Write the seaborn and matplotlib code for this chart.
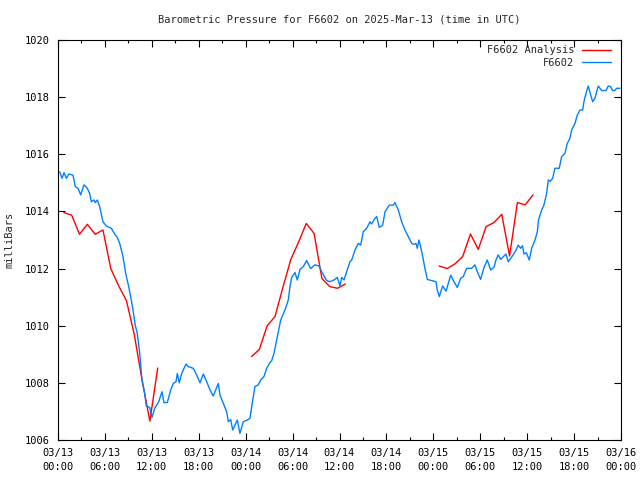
import matplotlib
matplotlib.use("Agg")
import matplotlib.pyplot as plt
from matplotlib.lines import Line2D
from matplotlib.ticker import MultipleLocator
import numpy as np
import pandas as pd
import seaborn as sns

title = "Barometric Pressure for F6602 on 2025-Mar-13 (time in UTC)"
ylabel = "milliBars"
series_names = ["F6602 Analysis", "F6602"]

# hours since 2025-03-13 00:00 UTC
blue_hours = [0.22, 0.51, 0.77, 1.06, 1.41, 1.92, 2.21, 2.56, 2.90, 3.32, 3.75, 4.05, 4.26, 4.60, 4.77, 5.03,
              5.33, 5.75, 6.18, 6.82, 7.25, 7.58, 7.89, 8.31, 8.66, 9.04, 9.37, 9.59, 9.88, 10.14, 10.45,
              10.74, 11.09, 11.29, 11.73, 12.02, 12.37, 12.88, 13.30, 13.55, 13.98, 14.41, 14.74, 15.09,
              15.26, 15.51, 15.82, 16.37, 16.66, 17.30, 17.74, 18.16, 18.58, 19.02, 19.44, 19.86, 20.50,
              20.72, 21.14, 21.57, 21.78, 22.08, 22.34, 22.93, 23.27, 23.70, 24.21, 24.55, 24.77, 25.19,
              25.61, 25.92, 26.34, 26.69, 27.11, 27.33, 27.62, 27.97, 28.48, 29.03, 29.45, 29.67, 29.88,
              30.31, 30.60, 30.95, 31.37, 31.80, 32.31, 32.86, 33.38, 33.72, 34.36, 34.78, 35.29, 35.72,
              36.06, 36.28, 36.57, 36.99, 37.34, 37.56, 37.98, 38.40, 38.71, 39.04, 39.48, 39.90, 40.10,
              40.54, 40.76, 41.09, 41.52, 41.82, 42.37, 42.88, 43.09, 43.52, 43.95, 44.37, 44.80, 45.23,
              45.50, 45.78, 45.95, 46.16, 46.38, 46.64, 46.93, 47.23, 47.79, 48.34, 48.50, 48.76, 49.19,
              49.62, 50.22, 50.64, 51.06, 51.50, 51.83, 52.26, 52.90, 53.32, 53.62, 54.05, 54.48, 54.90,
              55.33, 55.75, 56.01, 56.30, 56.61, 56.90, 57.29, 57.58, 58.22, 58.57, 58.86, 59.17, 59.40,
              59.59, 59.90, 60.27, 60.58, 61.00, 61.30, 61.45, 61.85, 62.15, 62.49, 62.70, 62.95, 63.26,
              63.55, 64.10, 64.41, 64.83, 65.13, 65.47, 65.69, 66.11, 66.41, 66.75, 67.10, 67.26, 67.52,
              67.81, 68.10, 68.38, 68.67, 69.09, 69.53, 70.08, 70.37, 70.65, 70.93, 71.20, 71.44, 71.87]
blue_mb = [1015.39, 1015.16, 1015.36, 1015.16, 1015.31, 1015.27, 1014.87, 1014.81, 1014.58, 1014.93, 1014.81,
           1014.63, 1014.34, 1014.40, 1014.31, 1014.40, 1014.17, 1013.64, 1013.49, 1013.41, 1013.21, 1013.09,
           1012.88, 1012.42, 1011.83, 1011.37, 1010.90, 1010.55, 1010.02, 1009.73, 1009.03, 1008.10, 1007.63,
           1007.19, 1007.14, 1006.79, 1007.11, 1007.34, 1007.69, 1007.31, 1007.31, 1007.75, 1007.98, 1008.04,
           1008.33, 1008.00, 1008.33, 1008.66, 1008.57, 1008.51, 1008.27, 1008.00, 1008.31, 1008.04, 1007.75,
           1007.54, 1007.98, 1007.57, 1007.28, 1006.99, 1006.64, 1006.72, 1006.35, 1006.70, 1006.23, 1006.64,
           1006.70, 1006.76, 1007.17, 1007.87, 1007.93, 1008.10, 1008.22, 1008.51, 1008.71, 1008.78, 1009.03,
           1009.50, 1010.20, 1010.55, 1010.90, 1011.37, 1011.69, 1011.86, 1011.60, 1011.97, 1012.07, 1012.28,
           1012.00, 1012.13, 1012.09, 1011.89, 1011.58, 1011.54, 1011.60, 1011.69, 1011.39, 1011.69, 1011.60,
           1011.95, 1012.24, 1012.30, 1012.65, 1012.88, 1012.82, 1013.29, 1013.41, 1013.64, 1013.56, 1013.76,
           1013.82, 1013.44, 1013.52, 1013.99, 1014.22, 1014.22, 1014.31, 1014.05, 1013.64, 1013.35, 1013.12,
           1012.88, 1012.85, 1012.88, 1012.71, 1013.00, 1012.77, 1012.42, 1012.00, 1011.62, 1011.58, 1011.54,
           1011.25, 1011.02, 1011.39, 1011.21, 1011.77, 1011.54, 1011.34, 1011.66, 1011.72, 1012.01, 1012.01,
           1012.13, 1011.89, 1011.62, 1012.04, 1012.30, 1011.95, 1012.04, 1012.30, 1012.48, 1012.32, 1012.40,
           1012.51, 1012.24, 1012.48, 1012.65, 1012.82, 1012.71, 1012.80, 1012.51, 1012.55, 1012.30, 1012.71,
           1013.00, 1013.29, 1013.70, 1014.05, 1014.23, 1014.63, 1015.10, 1015.05, 1015.16, 1015.51, 1015.51,
           1015.92, 1016.03, 1016.38, 1016.56, 1016.85, 1017.08, 1017.37, 1017.55, 1017.55, 1017.84, 1018.13,
           1018.39, 1018.10, 1017.84, 1017.96, 1018.39, 1018.23, 1018.23, 1018.39, 1018.37, 1018.23, 1018.23,
           1018.31, 1018.31]

red_seg1_hours = [0.75, 1.75, 2.75, 3.75, 4.75, 5.75, 6.75, 7.75, 8.75, 9.75, 10.75, 11.75, 12.75]
red_seg1_mb = [1013.96, 1013.87, 1013.20, 1013.55, 1013.20, 1013.35, 1012.00, 1011.40, 1010.88, 1009.70,
               1008.10, 1006.66, 1008.52]
red_seg2_hours = [24.75, 25.75, 26.75, 27.75, 28.75, 29.75, 30.75, 31.75, 32.75, 33.75, 34.75, 35.75, 36.75]
red_seg2_mb = [1008.92, 1009.17, 1010.00, 1010.32, 1011.33, 1012.30, 1012.92, 1013.58, 1013.23, 1011.65,
               1011.37, 1011.31, 1011.46]
red_seg3_hours = [48.75, 49.75, 50.75, 51.75, 52.75, 53.75, 54.75, 55.75, 56.75, 57.75, 58.75, 59.75, 60.75]
red_seg3_mb = [1012.09, 1012.00, 1012.16, 1012.42, 1013.21, 1012.67, 1013.47, 1013.61, 1013.90, 1012.44,
               1014.31, 1014.23, 1014.58]

x_tick_hours = [0, 6, 12, 18, 24, 30, 36, 42, 48, 54, 60, 66, 72]
x_tick_labels = ["03/13\n00:00", "03/13\n06:00", "03/13\n12:00", "03/13\n18:00",
                 "03/14\n00:00", "03/14\n06:00", "03/14\n12:00", "03/14\n18:00",
                 "03/15\n00:00", "03/15\n06:00", "03/15\n12:00", "03/15\n18:00",
                 "03/16\n00:00"]
y_ticks = [1006, 1008, 1010, 1012, 1014, 1016, 1018, 1020]

RED = "#ff0000"
BLUE = "#0080ff"

sns.set_style("ticks")
plt.rcParams["font.family"] = ["DejaVu Sans Mono"]
plt.rcParams["font.size"] = 7.5

red_df = pd.DataFrame({
    "hour": red_seg1_hours + red_seg2_hours + red_seg3_hours,
    "mb": red_seg1_mb + red_seg2_mb + red_seg3_mb,
    "seg": [1] * len(red_seg1_hours) + [2] * len(red_seg2_hours) + [3] * len(red_seg3_hours),
})
blue_df = pd.DataFrame({"hour": blue_hours, "mb": blue_mb})

fig = plt.figure(figsize=(6.4, 4.8), dpi=100)
ax = fig.add_axes([58 / 640, 40 / 480, (621 - 58) / 640, 400 / 480])

sns.lineplot(data=red_df, x="hour", y="mb", units="seg", estimator=None, color=RED,
             linewidth=1.0, ax=ax, legend=False)
sns.lineplot(data=blue_df, x="hour", y="mb", estimator=None, color=BLUE,
             linewidth=1.0, ax=ax, legend=False)

ax.set_xlim(0, 72)
ax.set_ylim(1006, 1020)
ax.set_xticks(x_tick_hours)
ax.set_xticklabels(x_tick_labels, linespacing=1.45)
ax.xaxis.set_minor_locator(MultipleLocator(3))
ax.set_yticks(y_ticks)
ax.set_yticklabels([str(v) for v in y_ticks])
ax.tick_params(axis="both", which="both", direction="in", top=True, right=True,
               colors="black", width=0.8, labelsize=7.5)
ax.tick_params(axis="both", which="major", length=5)
ax.tick_params(axis="both", which="minor", length=2.5)
ax.tick_params(axis="y", pad=6)
ax.tick_params(axis="x", pad=6)
for sp in ax.spines.values():
    sp.set_color("black")
    sp.set_linewidth(0.8)
    sp.set_visible(True)

ax.set_xlabel("")
ax.set_ylabel(ylabel, fontsize=7.5)
ax.yaxis.set_label_coords(-43 / 563, 0.5)
ax.set_title(title, fontsize=7.5, pad=12.5)

handles = [Line2D([], [], color=RED, lw=1.0), Line2D([], [], color=BLUE, lw=1.0)]
ax.legend(handles, series_names, loc="upper right", frameon=False, markerfirst=False,
          handlelength=2.7, handletextpad=0.8, labelspacing=0.25, borderaxespad=0.0,
          borderpad=0.25, fontsize=7.5,
          bbox_to_anchor=(1 - 7.8 / 563, 1 - 2.8 / 400))

fig.savefig("out.png", dpi=100)
